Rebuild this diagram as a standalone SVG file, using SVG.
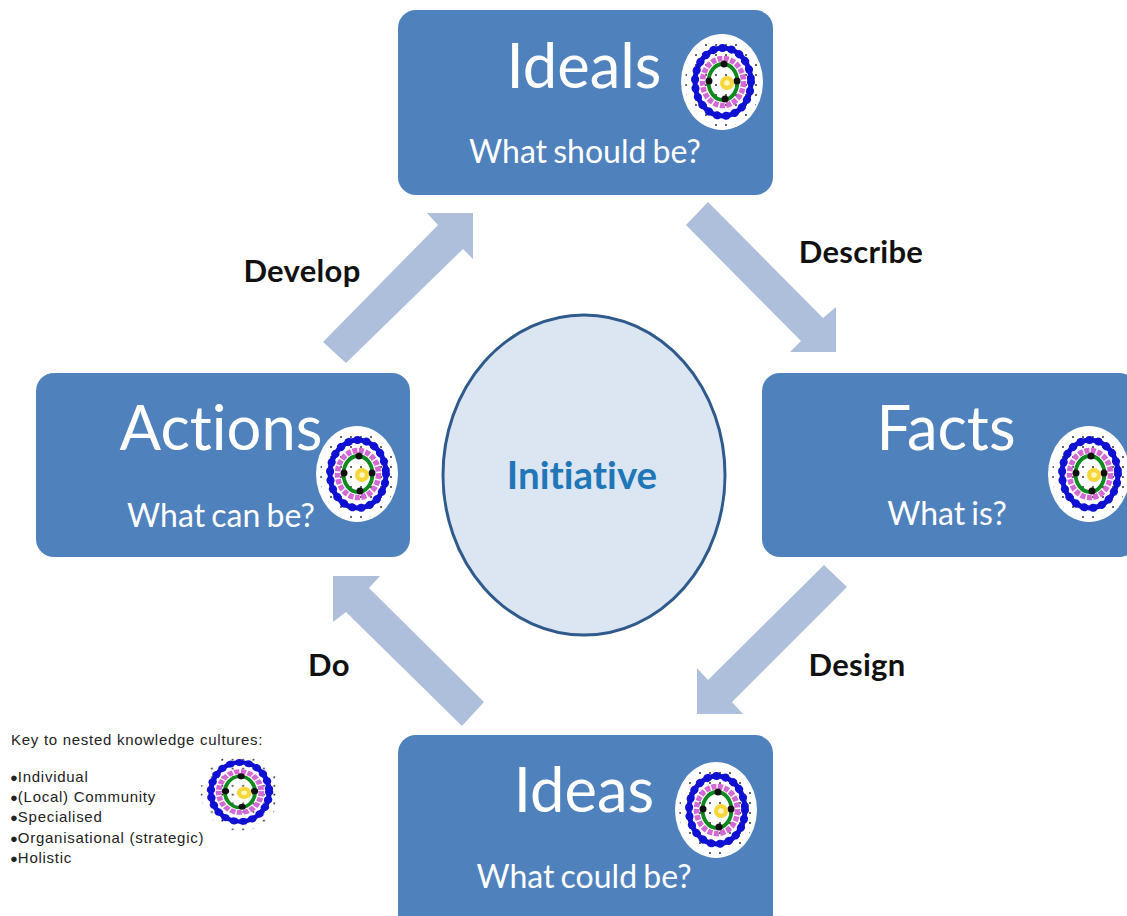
<svg xmlns="http://www.w3.org/2000/svg" xmlns:xlink="http://www.w3.org/1999/xlink" width="1127" height="916" viewBox="0 0 1127 916">
<style>
.box{fill:#4f81bd}
.arrow{fill:#aebfdc}
.t{font-family:Lato,"Liberation Sans",sans-serif;fill:#fff;text-anchor:middle;font-variant-ligatures:none}
.h{font-size:61.500px}
.s{font-size:32px;word-spacing:-2px}
.l{font-family:Lato,"Liberation Sans",sans-serif;font-weight:700;font-size:31px;fill:#111;text-anchor:middle;letter-spacing:.3px}
.k{font-family:"Liberation Sans",Arial,sans-serif;font-size:15px;fill:#222;letter-spacing:.72px}
.b{font-size:13px;letter-spacing:0}
</style>
<defs>
<pattern id="dots" width="10" height="10" patternUnits="userSpaceOnUse"><circle cx="3" cy="3" r=".95" fill="#222"/></pattern>
<g id="rings">
<ellipse rx="38" ry="45" fill="url(#dots)"/>
<ellipse rx="28" ry="34" fill="none" stroke="#1010d2" stroke-width="5"/>
<ellipse rx="28" ry="34" fill="none" stroke="#1010d2" stroke-width="8" stroke-linecap="round" stroke-dasharray="0.1 9"/>
<ellipse rx="20.500" ry="23.500" fill="none" stroke="#d468d4" stroke-width="5.500" stroke-dasharray="5 1.500"/>
<ellipse rx="14.500" ry="18" fill="none" stroke="#0d8a1e" stroke-width="3.800"/>
<circle cx="1" cy="-18" r="3.500" fill="#111"/><circle cx="2" cy="17" r="3.500" fill="#111"/><circle cx="-14" cy="-1" r="3.500" fill="#111"/><circle cx="14" cy="-1" r="3.500" fill="#111"/>
<circle cx="4" cy="1" r="7" fill="#f7d63a"/><circle cx="4" cy="1" r="2.800" fill="#fff6c0"/>
</g>
<g id="emblem"><ellipse cx="-1" rx="41" ry="48" fill="#fff"/><use xlink:href="#rings" href="#rings"/></g>
</defs>
<rect width="1127" height="916" fill="#fff"/>
<g id="connectors">
<polygon class="arrow" points="323,342 438,225 427,213 473,213 473,259 463,249 346,363"/>
<polygon class="arrow" points="708,202 823,318 836,307 836,352 790,352 801,341 686,225"/>
<polygon class="arrow" points="824,565 708,680 697,668 697,714 743,714 732,702 847,587"/>
<polygon class="arrow" points="484,702 369,588 380,576 333,576 333,622 346,612 462,726"/>
</g>
<g id="ideals">
<rect class="box" x="398" y="10" width="375" height="185" rx="18"/>
<text class="t h" x="584" y="88">Ideals</text>
<text class="t s" x="585" y="163">What should be?</text>
<use xlink:href="#emblem" href="#emblem" x="723" y="82"/>
</g>
<g id="facts">
<rect class="box" x="762" y="373" width="375" height="184" rx="18"/>
<text class="t h" x="946" y="450">Facts</text>
<text class="t s" x="947" y="525">What is?</text>
<use xlink:href="#emblem" href="#emblem" x="1090" y="474"/>
</g>
<g id="actions">
<rect class="box" x="36" y="373" width="374" height="184" rx="18"/>
<text class="t h" x="221" y="450">Actions</text>
<text class="t s" x="221" y="527">What can be?</text>
<use xlink:href="#emblem" href="#emblem" x="358" y="474"/>
</g>
<g id="ideas">
<rect class="box" x="398" y="735" width="375" height="200" rx="18"/>
<text class="t h" x="584" y="812">Ideas</text>
<text class="t s" x="584" y="888">What could be?</text>
<use xlink:href="#emblem" href="#emblem" x="717" y="810"/>
</g>
<g id="initiative">
<ellipse cx="584" cy="475" rx="141" ry="160" fill="#dce6f2" stroke="#2f5a8c" stroke-width="3"/>
<text x="582" y="489" font-family="Lato,'Liberation Sans',sans-serif" font-weight="700" font-size="38.500" fill="#1f77b8" text-anchor="middle" style="font-variant-ligatures:none">Initiative</text>
</g>
<g id="labels">
<text class="l" x="302" y="282">Develop</text>
<text class="l" x="861" y="263">Describe</text>
<text class="l" x="857" y="676">Design</text>
<text class="l" x="329" y="676">Do</text>
</g>
<g id="key">
<text class="k" x="11" y="745">Key to nested knowledge cultures:</text>
<text class="k" x="10" y="782"><tspan class="b">●</tspan>Individual</text>
<text class="k" x="10" y="802"><tspan class="b">●</tspan>(Local) Community</text>
<text class="k" x="10" y="822"><tspan class="b">●</tspan>Specialised</text>
<text class="k" x="10" y="843"><tspan class="b">●</tspan>Organisational (strategic)</text>
<text class="k" x="10" y="863"><tspan class="b">●</tspan>Holistic</text>
<use xlink:href="#rings" href="#rings" transform="translate(240 792) scale(1.040 .87)"/>
</g>
</svg>
